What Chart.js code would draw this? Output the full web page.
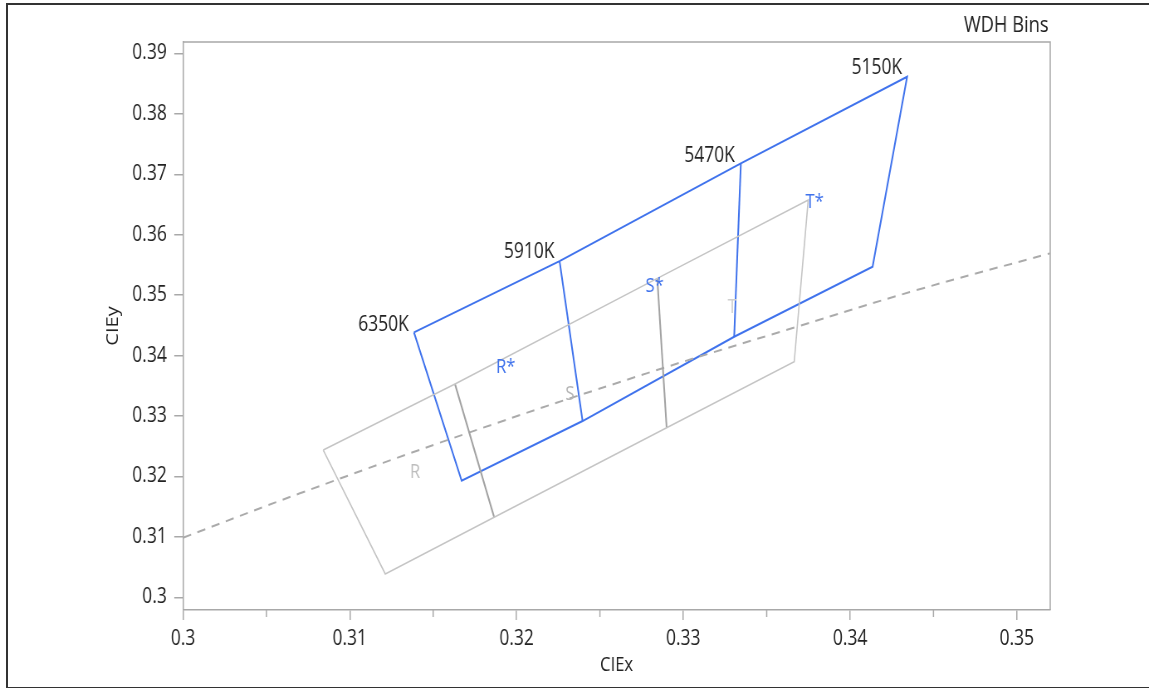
<!DOCTYPE html>
<html>
<head>
<meta charset="utf-8">
<title>WDH Bins</title>
<script src="https://cdn.jsdelivr.net/npm/chart.js@4.4.1/dist/chart.umd.min.js"></script>
<style>
    html, body { margin: 0; padding: 0; background: #fff; overflow: hidden; }
    #wrap { position: absolute; left: 0; top: 0; width: 1384px; height: 688px; transform: scaleX(0.8302); transform-origin: 0 0; }
    #frame { position: absolute; left: 6px; top: 3px; width: 1200px; height: 682px; border: 2px solid #333; pointer-events: none; }
</style>
</head>
<body>
<div id="wrap"><canvas id="binChart" width="1384" height="688"></canvas></div>
<div id="frame"></div>
<script>
// Blue bins (6350K -> 5150K), upper and lower corners
const blueTopX = [0.31385, 0.32258, 0.33345, 0.34342];
const blueTopY = [0.34385, 0.35564, 0.37180, 0.38614];
const blueBottomX = [0.31671, 0.32396, 0.33305, 0.34135];
const blueBottomY = [0.31929, 0.32917, 0.34312, 0.35470];

// Gray R / S / T bins, upper and lower corners
const grayTopX = [0.30841, 0.31631, 0.32844, 0.33749];
const grayTopY = [0.32437, 0.33529, 0.35278, 0.36573];
const grayBottomX = [0.31213, 0.31866, 0.32900, 0.33665];
const grayBottomY = [0.30386, 0.31324, 0.32806, 0.33898];

// Dashed locus line
const locusX = [0.30000, 0.30701, 0.31701, 0.32780, 0.33679, 0.34399, 0.35198];
const locusY = [0.30986, 0.31721, 0.32713, 0.33706, 0.34477, 0.35084, 0.35692];

// Text labels
const kelvinLabels = ['6350K', '5910K', '5470K', '5150K'];
const kelvinLabelX = [0.31202, 0.32076, 0.33157, 0.34161];
const kelvinLabelY = [0.34505, 0.35710, 0.37302, 0.38757];
const starLabels = ['R*', 'S*', 'T*'];
const starLabelX = [0.31935, 0.32828, 0.33787];
const starLabelY = [0.33810, 0.35139, 0.36532];
const binLabels = ['R', 'S', 'T'];
const binLabelX = [0.31391, 0.32320, 0.33294];
const binLabelY = [0.32065, 0.33364, 0.34795];

// Axis ticks
const xTicks = [0.30, 0.31, 0.32, 0.33, 0.34, 0.35];
const xMinorTicks = [0.305, 0.315, 0.325, 0.335, 0.345];
const yTicks = [0.30, 0.31, 0.32, 0.33, 0.34, 0.35, 0.36, 0.37, 0.38, 0.39];

const blue = '#3f72ec';
const axisGray = '#a8a8a8';
const font = "'Open Sans', 'Noto Sans', sans-serif";

function toPoints(xs, ys) {
    return xs.map((x, i) => ({ x: x, y: ys[i] }));
}

// top row left to right, then bottom row back, closed
function outline(topX, topY, botX, botY) {
    const top = toPoints(topX, topY);
    const bot = toPoints(botX, botY).reverse();
    return top.concat(bot, [top[0]]);
}

function lineSet(data, color, width, extra) {
    return Object.assign({
        data: data,
        showLine: true,
        borderColor: color,
        borderWidth: width,
        pointRadius: 0,
        fill: false
    }, extra || {});
}

function buildDatasets() {
    const sets = [];
    sets.push(lineSet(outline(grayTopX, grayTopY, grayBottomX, grayBottomY), '#c4c4c4', 1.6));
    for (let i = 1; i < grayTopX.length - 1; i++) {
        sets.push(lineSet([{ x: grayTopX[i], y: grayTopY[i] }, { x: grayBottomX[i], y: grayBottomY[i] }], '#a2a2a2', 2));
    }
    sets.push(lineSet(toPoints(locusX, locusY), '#aaaaaa', 2, { borderDash: [10, 8], tension: 0.4 }));
    sets.push(lineSet(outline(blueTopX, blueTopY, blueBottomX, blueBottomY), blue, 2));
    for (let i = 1; i < blueTopX.length - 1; i++) {
        sets.push(lineSet([{ x: blueTopX[i], y: blueTopY[i] }, { x: blueBottomX[i], y: blueBottomY[i] }], blue, 2));
    }
    return sets;
}

// Plot frame, minor ticks and text labels
const binDecor = {
    id: 'binDecor',
    beforeDatasetsDraw(chart) {
        const { ctx, chartArea: a, scales } = chart;
        ctx.save();
        ctx.strokeStyle = axisGray;
        ctx.lineWidth = 1.5;
        ctx.beginPath();
        ctx.moveTo(a.left, a.top);
        ctx.lineTo(a.right, a.top);
        ctx.lineTo(a.right, a.bottom);
        xMinorTicks.forEach(v => {
            const px = scales.x.getPixelForValue(v);
            ctx.moveTo(px, a.bottom);
            ctx.lineTo(px, a.bottom + 7);
        });
        ctx.stroke();
        ctx.restore();
    },
    afterDatasetsDraw(chart) {
        const { ctx, chartArea: a, scales } = chart;
        const put = (text, x, y, color) => {
            ctx.fillStyle = color;
            ctx.fillText(text, scales.x.getPixelForValue(x), scales.y.getPixelForValue(y));
        };
        ctx.save();
        ctx.textAlign = 'center';
        ctx.textBaseline = 'middle';
        ctx.font = '21px ' + font;
        kelvinLabels.forEach((t, i) => put(t, kelvinLabelX[i], kelvinLabelY[i], '#222'));
        ctx.font = '20px ' + font;
        starLabels.forEach((t, i) => put(t, starLabelX[i], starLabelY[i], blue));
        const binColors = ['#bdbdbd', '#b5b5b5', '#cfcfcf'];
        binLabels.forEach((t, i) => put(t, binLabelX[i], binLabelY[i], binColors[i]));
        ctx.textAlign = 'right';
        ctx.font = '22px ' + font;
        ctx.fillStyle = '#222';
        ctx.fillText('WDH Bins', a.right - 2, a.top - 16);
        ctx.restore();
    }
};

function tickLabel(value) {
    return String(+value.toFixed(3));
}

document.addEventListener('DOMContentLoaded', function() {
    const ctx = document.getElementById('binChart').getContext('2d');
    new Chart(ctx, {
        type: 'scatter',
        data: { datasets: buildDatasets() },
        plugins: [binDecor],
        options: {
            responsive: false,
            devicePixelRatio: 1,
            animation: false,
            layout: { padding: { left: 120, right: 119, top: 42, bottom: 7 } },
            plugins: {
                legend: { display: false },
                tooltip: { enabled: false }
            },
            scales: {
                x: {
                    min: 0.3,
                    max: 0.352,
                    afterBuildTicks: scale => { scale.ticks = xTicks.map(v => ({ value: v })); },
                    afterFit: scale => { scale.height = 71; },
                    grid: { drawOnChartArea: false, tickLength: 10, color: axisGray, lineWidth: 1.5 },
                    border: { color: axisGray, width: 1.5 },
                    ticks: { autoSkip: false, maxRotation: 0, padding: 6, color: '#222', font: { family: font, size: 21 }, callback: tickLabel },
                    title: { display: true, text: 'CIEx', color: '#222', font: { family: font, size: 20 } }
                },
                y: {
                    min: 0.2979,
                    max: 0.3919,
                    afterBuildTicks: scale => { scale.ticks = yTicks.map(v => ({ value: v })); },
                    afterFit: scale => { scale.width = 100.4; },
                    grid: { drawOnChartArea: false, tickLength: 10.5, color: axisGray, lineWidth: 1.5 },
                    border: { color: axisGray, width: 1.5 },
                    ticks: { autoSkip: false, padding: 9, color: '#222', font: { family: font, size: 21 }, callback: tickLabel },
                    title: { display: true, text: 'CIEy', color: '#222', font: { family: font, size: 20 } }
                }
            }
        }
    });
});
</script>
</body>
</html>
